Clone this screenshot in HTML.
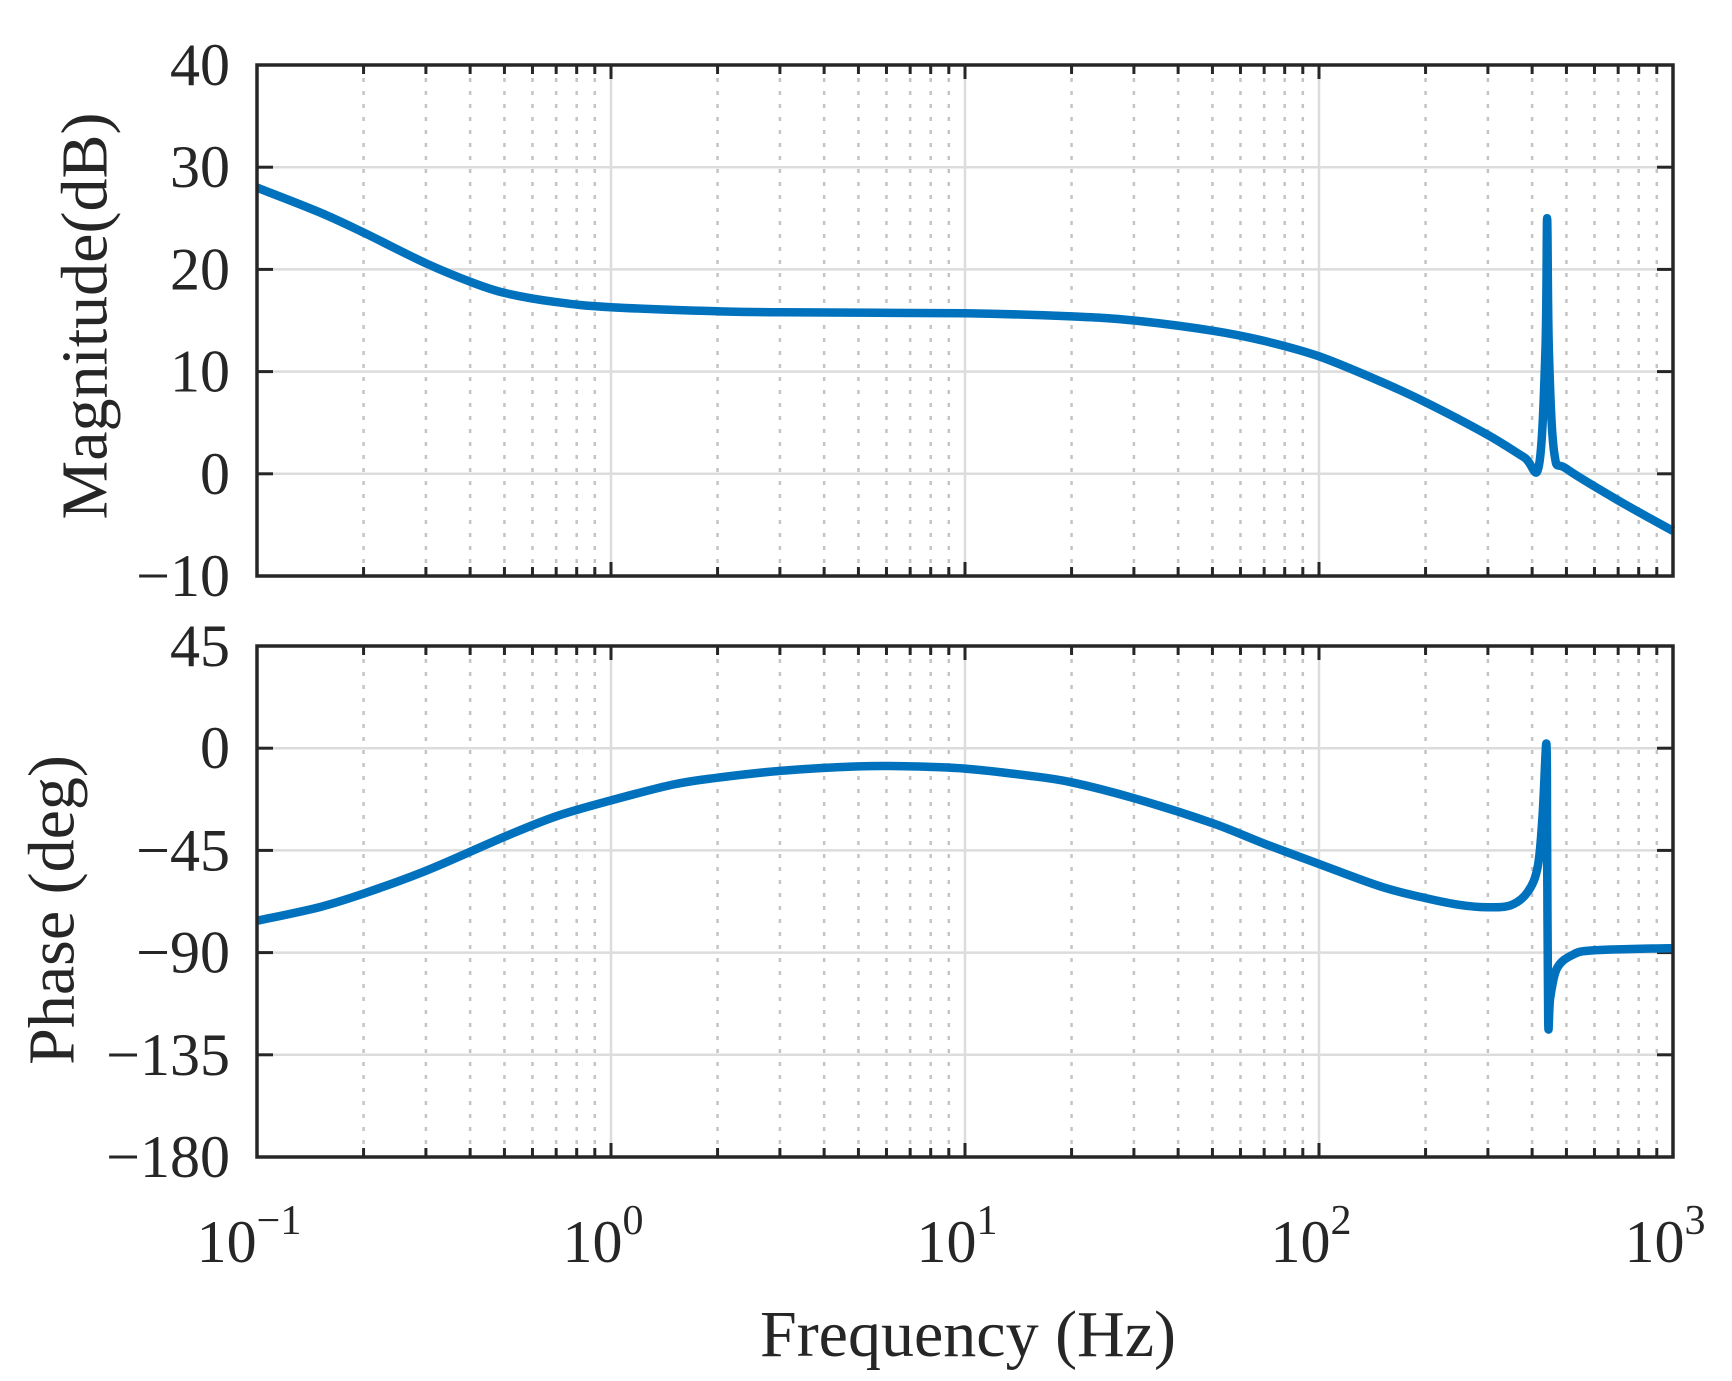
<!DOCTYPE html>
<html><head><style>body{margin:0;background:#fff}svg{display:block}text{font-family:"Liberation Serif","Times New Roman",serif;fill:#262626}</style></head>
<body>
<svg id="s" width="1732" height="1381" xmlns="http://www.w3.org/2000/svg">
<g id="g"></g>
<text x="85" y="316" font-size="66" text-anchor="middle" transform="rotate(-90 85 316)" dominant-baseline="central">Magnitude(dB)</text>
<text x="52" y="910" font-size="66" text-anchor="middle" transform="rotate(-90 52 910)" dominant-baseline="central">Phase (deg)</text>
<text x="968" y="1356" font-size="66" text-anchor="middle">Frequency (Hz)</text>
</svg>
<script>
const NS="http://www.w3.org/2000/svg",g=document.getElementById('g');
const X0=257,X1=1673,D=354;
const fx=f=>X0+(Math.log10(f)+1)*D;
function el(t,a,txt){const e=document.createElementNS(NS,t);for(const k in a)e.setAttribute(k,a[k]);if(txt!=null)e.textContent=txt;g.appendChild(e);return e;}
const axes=[{t:65,b:576,v0:40,v1:-10,ticks:[40,30,20,10,0,-10]},{t:646,b:1157,v0:45,v1:-180,ticks:[45,0,-45,-90,-135,-180]}];
axes.forEach(a=>{
 const fy=v=>a.t+(a.v0-v)/(a.v0-a.v1)*(a.b-a.t);a.fy=fy;
 for(let d=-1;d<3;d++)for(let m=2;m<10;m++){const x=fx(m*Math.pow(10,d));
  el('line',{x1:x,x2:x,y1:a.t,y2:a.b,stroke:'#c4c4c4','stroke-width':2.5,'stroke-dasharray':'4 9'});
  el('line',{x1:x,x2:x,y1:a.t,y2:a.t+9,stroke:'#262626','stroke-width':3});
  el('line',{x1:x,x2:x,y1:a.b,y2:a.b-9,stroke:'#262626','stroke-width':3});}
 for(let d=0;d<4;d++){const x=fx(Math.pow(10,d-1)*1);
  if(d>0)el('line',{x1:x,x2:x,y1:a.t,y2:a.b,stroke:'#dcdcdc','stroke-width':2.5});
  el('line',{x1:x,x2:x,y1:a.t,y2:a.t+14,stroke:'#262626','stroke-width':3});
  el('line',{x1:x,x2:x,y1:a.b,y2:a.b-14,stroke:'#262626','stroke-width':3});}
 a.ticks.forEach(v=>{const y=fy(v);
  el('line',{x1:X0,x2:X1,y1:y,y2:y,stroke:'#dcdcdc','stroke-width':2.5});
  el('line',{x1:X0,x2:X0+16,y1:y,y2:y,stroke:'#262626','stroke-width':3});
  el('line',{x1:X1,x2:X1-16,y1:y,y2:y,stroke:'#262626','stroke-width':3});
  el('text',{x:230,y:y+20,'font-size':60,'text-anchor':'end'},(v<0?'\u2212':'')+Math.abs(v));});
});
function curve(a,pts){const P=pts.map(p=>[fx(p[0]),a.fy(p[1])]);let d='M'+P[0][0]+','+P[0][1];
 for(let i=0;i<P.length-1;i++){const p0=P[Math.max(0,i-1)],p1=P[i],p2=P[i+1],p3=P[Math.min(P.length-1,i+2)];
  const c1=[p1[0]+(p2[0]-p0[0])/6,p1[1]+(p2[1]-p0[1])/6],c2=[p2[0]-(p3[0]-p1[0])/6,p2[1]-(p3[1]-p1[1])/6];
  d+='C'+c1.map(v=>v.toFixed(1))+' '+c2.map(v=>v.toFixed(1))+' '+p2.map(v=>v.toFixed(1));}
 el('path',{d:d,fill:'none',stroke:'#0072BD','stroke-width':8.5,'stroke-linejoin':'round'});}
curve(axes[0],[[0.1,28],[0.15,25.6],[0.2,23.6],[0.3,20.6],[0.4,18.8],[0.5,17.7],[0.7,16.8],[1,16.3],[2,15.9],[3,15.8],[10,15.7],[20,15.4],[30,15],[50,14],[70,13],[100,11.5],[150,9],[200,7],[300,3.8],[380,1.6],[418,0.8],[436,12],[441,25],[446,12],[462,2],[500,0.5],[700,-2.6],[1000,-5.6]]);
curve(axes[1],[[0.1,-76],[0.15,-70],[0.2,-64],[0.3,-54],[0.5,-39],[0.7,-30],[1,-23],[1.5,-16],[2,-13],[3,-10],[5,-8],[7,-8],[10,-9],[15,-12],[20,-15],[30,-22],[50,-33],[70,-42],[100,-51],[150,-61],[200,-66],[250,-69],[300,-70],[350,-69],[390,-63],[415,-52],[428,-30],[439,2],[441,-40],[444,-120],[450,-110],[470,-97],[520,-91],[600,-89],[1000,-88]]);
axes.forEach(a=>el('rect',{x:X0,y:a.t,width:X1-X0,height:a.b-a.t,fill:'none',stroke:'#262626','stroke-width':3.5}));
[-1,0,1,2,3].forEach((e,i)=>{const x=fx(Math.pow(10,e));
 const t=el('text',{x:x-8,y:1262,'font-size':60,'text-anchor':'middle'});
 t.textContent='10';const s=document.createElementNS(NS,'tspan');s.setAttribute('dy',-28);s.setAttribute('font-size',42);s.textContent=(e<0?'\u2212':'')+Math.abs(e);t.appendChild(s);});
</script>
</body></html>
